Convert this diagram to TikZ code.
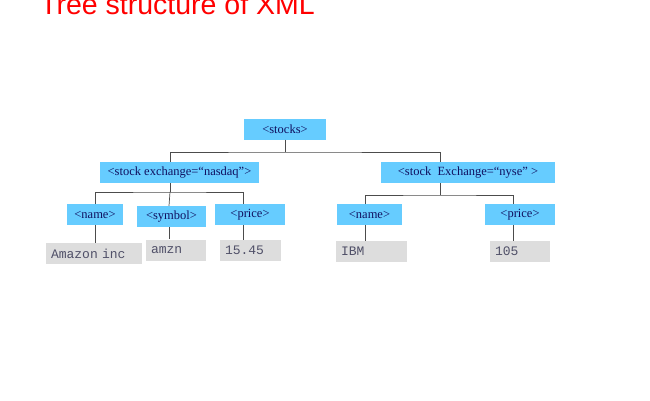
\documentclass[tikz,border=0pt]{standalone}
\usepackage{fontspec}
\setmainfont{Liberation Serif}
\newfontfamily\titlefont{Liberation Sans}
\newfontfamily\monofont{Liberation Mono}
\definecolor{boxblue}{HTML}{66CCFF}
\definecolor{leafgray}{HTML}{DDDDDD}
\definecolor{navy}{HTML}{101060}
\definecolor{leaftext}{HTML}{505068}
\begin{document}
\begin{tikzpicture}[x=1pt,y=-1pt,
  tag/.style={fill=boxblue,text=navy,font=\fontsize{12.5}{14}\selectfont,inner sep=0pt,minimum height=21pt},
  leaf/.style={fill=leafgray,text=leaftext,font=\monofont\fontsize{13}{14}\selectfont,inner sep=0pt,minimum height=21pt,text width=#1-10pt,minimum width=#1},
  link/.style={draw=black!70,line width=0.7pt}]
\useasboundingbox (0,0) rectangle (650,400);
\node[anchor=base west,text=red,font=\titlefont\fontsize{28.5}{32}\selectfont,inner sep=0pt] (title) at (40,14) {Tree structure of XML};
\node[tag,minimum width=82pt] (stocks) at (285,129) {{<}stocks{>}};
\node[tag,minimum width=159pt] (nasdaq) at (179.5,172.5) {{<}stock exchange=“nasdaq”{>}};
\node[tag,minimum width=174pt] (nyse) at (468,172.5) {{<}stock\ \ Exchange=“nyse” {>}};
\node[tag,minimum width=56pt] (name1) at (95,214.5) {{<}name{>}};
\node[tag,minimum width=69pt] (symbol) at (171.5,216.5) {{<}symbol{>}};
\node[tag,minimum width=70pt] (price1) at (250,214.5) {{<}price{>}};
\node[tag,minimum width=65pt] (name2) at (369.5,214.5) {{<}name{>}};
\node[tag,minimum width=70pt] (price2) at (520,214.5) {{<}price{>}};
\node[leaf=96pt] (amazon) at (94,253.5) {Amazon inc};
\node[leaf=60pt] (amzn) at (176,250) {amzn};
\node[leaf=61pt] (p1) at (250.5,250.5) {15.45};
\node[leaf=71pt] (ibm) at (371.5,251.5) {IBM};
\node[leaf=60pt] (p2) at (520,251.5) {105};
% junction coordinates
\coordinate (j0) at (285,152);
\coordinate (xa) at (170,0);
\coordinate (xb) at (440,0);
\coordinate (j1) at (170,192);
\coordinate (j2) at (440,195);
\coordinate (c1) at (95,0);
\coordinate (c2) at (169,0);
\coordinate (c3) at (243,0);
\coordinate (c4) at (365,0);
\coordinate (c5) at (513,0);
\draw[link] (stocks.south) -- (j0);
\draw[link] (nasdaq.north -| xa) |- (j0) -| (nyse.north -| xb);
\draw[link] (nasdaq.south -| xa) -- (j1);
\draw[link] (name1.north -| c1) |- (j1) -| (price1.north -| c3);
\draw[link] (j1) -- (symbol.north -| c2);
\draw[link] (nyse.south -| xb) -- (j2);
\draw[link] (name2.north -| c4) |- (j2) -| (price2.north -| c5);
\draw[link] (name1.south -| c1) -- (amazon.north -| c1);
\draw[link] (symbol.south -| c2) -- (amzn.north -| c2);
\draw[link] (price1.south -| c3) -- (p1.north -| c3);
\draw[link] (name2.south -| c4) -- (ibm.north -| c4);
\draw[link] (price2.south -| c5) -- (p2.north -| c5);
\end{tikzpicture}
\end{document}
